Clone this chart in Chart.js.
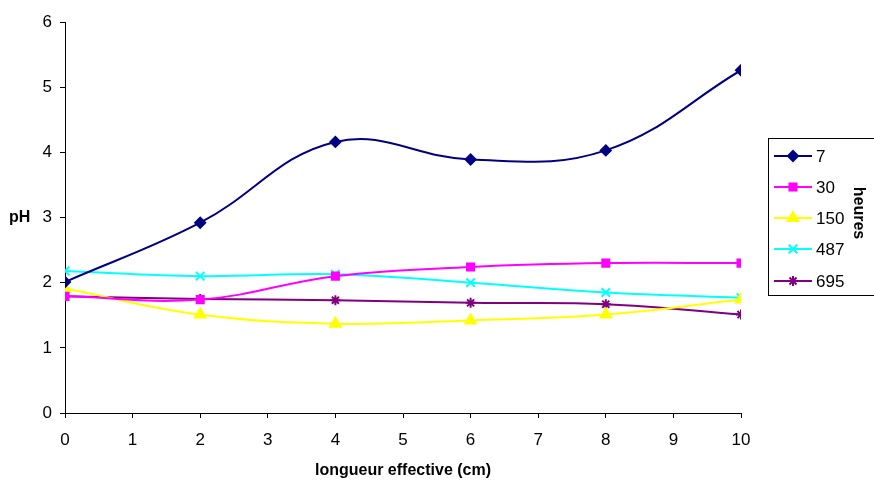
<!DOCTYPE html>
<html>
<head>
<meta charset="utf-8">
<script src="https://cdn.jsdelivr.net/npm/chart.js@4/dist/chart.umd.min.js"></script>
<style>
  html, body { margin: 0; padding: 0; background: #fff; }
  #wrap { width: 874px; height: 485px; }
</style>
</head>
<body>
<div id="wrap"><canvas id="chart" width="874" height="485"></canvas></div>
<script>
const lengths = [0, 2, 4, 6, 8, 10];
const hours = ["7", "30", "150", "487", "695"];
const ph7 = [2.01, 2.92, 4.16, 3.89, 4.03, 5.26];
const ph30 = [1.79, 1.74, 2.10, 2.24, 2.30, 2.30];
const ph150 = [1.91, 1.51, 1.37, 1.42, 1.51, 1.74];
const ph487 = [2.18, 2.10, 2.13, 2.00, 1.85, 1.77];
const ph695 = [1.79, 1.75, 1.73, 1.69, 1.67, 1.51];

const colors = ["#000080", "#FF00FF", "#FFFF00", "#00FFFF", "#800080"];
const shapes = ["rectRot", "rect", "triangle", "crossRot", "star"];
const sizes = [5, 5, 6, 6, 5];
const sans = "'Liberation Sans', Arial, sans-serif";

const toPoints = (vals) => lengths.map((x, i) => ({ x: x, y: vals[i] }));

const datasets = [ph7, ph30, ph150, ph487, ph695].map((vals, i) => ({
    label: hours[i],
    data: toPoints(vals),
    borderColor: colors[i],
    backgroundColor: colors[i],
    borderWidth: 2,
    pointStyle: shapes[i],
    pointRadius: sizes[i],
    pointBorderWidth: 2,
    tension: 0.4,
    fill: false
}));

// legend box, "pH" and the rotated "heures" drawn by hand
const extras = {
    id: "extras",
    afterDraw(chart) {
        const ctx = chart.ctx;
        ctx.save();
        ctx.fillStyle = "#000";
        ctx.font = "bold 16px " + sans;
        ctx.textAlign = "left";
        ctx.textBaseline = "middle";
        ctx.fillText("pH", 9, 218);

        ctx.strokeStyle = "#000";
        ctx.lineWidth = 1;
        ctx.strokeRect(768.5, 138.5, 120, 157);

        const rows = [156, 187, 218, 249, 281];
        rows.forEach((y, i) => {
            ctx.strokeStyle = colors[i];
            ctx.fillStyle = colors[i];
            ctx.lineWidth = 2;
            ctx.beginPath();
            ctx.moveTo(774, y);
            ctx.lineTo(812, y);
            ctx.stroke();
            Chart.helpers.drawPoint(ctx, {
                pointStyle: shapes[i],
                radius: sizes[i],
                borderWidth: 2,
                rotation: 0
            }, 793, y);
            ctx.fillStyle = "#000";
            ctx.font = "17px " + sans;
            ctx.textAlign = "left";
            ctx.textBaseline = "middle";
            ctx.fillText(hours[i], 816, y + 1);
        });

        ctx.translate(858, 213);
        ctx.rotate(Math.PI / 2);
        ctx.font = "bold 16px " + sans;
        ctx.textAlign = "center";
        ctx.textBaseline = "middle";
        ctx.fillStyle = "#000";
        ctx.fillText("heures", 0, 0);
        ctx.restore();
    }
};

new Chart(document.getElementById("chart"), {
    type: "line",
    data: { datasets: datasets },
    options: {
        responsive: false,
        animation: false,
        layout: { padding: { left: 0, right: 133, top: 22, bottom: 0 } },
        plugins: {
            legend: { display: false },
            tooltip: { enabled: false }
        },
        scales: {
            x: {
                type: "linear",
                min: 0,
                max: 10,
                afterFit: (s) => { s.height = 72; },
                ticks: {
                    stepSize: 1,
                    color: "#000",
                    padding: 12,
                    font: { family: sans, size: 17 }
                },
                grid: {
                    drawOnChartArea: false,
                    drawTicks: true,
                    tickLength: 5,
                    color: "#000"
                },
                border: { color: "#000", width: 1 },
                title: {
                    display: true,
                    text: "longueur effective (cm)",
                    color: "#000",
                    padding: { top: 0, bottom: 5 },
                    font: { family: sans, size: 16, weight: "bold" }
                }
            },
            y: {
                min: 0,
                max: 6,
                afterFit: (s) => { s.width = 65; },
                ticks: {
                    stepSize: 1,
                    color: "#000",
                    padding: 8,
                    font: { family: sans, size: 17 }
                },
                grid: {
                    drawOnChartArea: false,
                    drawTicks: true,
                    tickLength: 5,
                    color: "#000"
                },
                border: { color: "#000", width: 1 }
            }
        }
    },
    plugins: [extras]
});
</script>
</body>
</html>
